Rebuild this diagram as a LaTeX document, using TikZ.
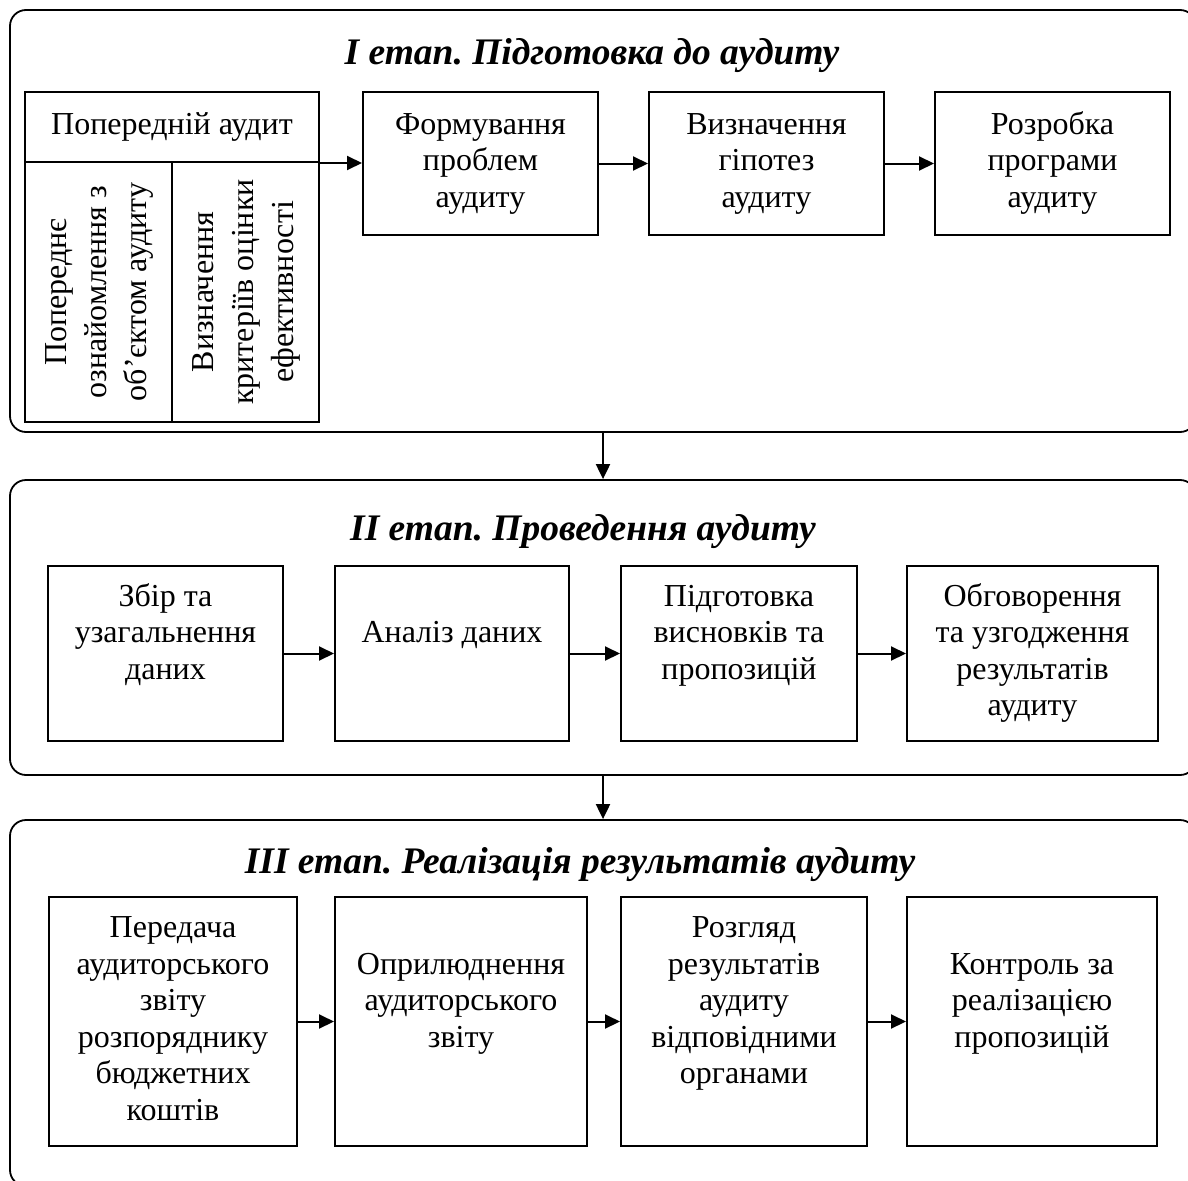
\documentclass[tikz,border=0pt]{standalone}
\usepackage{fontspec}
\setmainfont{Liberation Serif}
\frenchspacing
\usetikzlibrary{arrows.meta, positioning}

\tikzset{
	stage/.style={draw, line width=1.8pt, rounded corners=16pt},
	blk/.style={draw, line width=2pt, align=center, inner sep=0pt, font=\fontsize{32}{36.5}\selectfont},
	vblk/.style={blk, rotate=90, minimum width=260pt, minimum height=147pt, font=\fontsize{32}{40}\selectfont},
	ttl/.style={anchor=base, font=\fontsize{37.5}{42}\selectfont\bfseries\itshape},
	arr/.style={-{Triangle[length=15pt, width=14pt]}, line width=2pt}
}

\begin{document}
\begin{tikzpicture}[x=1pt, y=-1pt, on grid]
	\useasboundingbox (0,0) rectangle (1188,1180);
	\clip (0,0) rectangle (1188,1180);

	% stages
	\node[stage, minimum width=1186pt, minimum height=422pt] (st_1) at (603,221) {};
	\node[stage, minimum width=1186pt, minimum height=295pt] (st_2) at (603,627.5) {};
	\node[stage, minimum width=1186pt, minimum height=366pt] (st_3) at (603,1003) {};

	\node[ttl] (t_1) at (592,65) {I етап. Підготовка до аудиту};
	\node[ttl] (t_2) at (583,540) {II етап. Проведення аудиту};
	\node[ttl] (t_3) at (580,873) {III етап. Реалізація результатів аудиту};

	% stage I
	\node[blk, minimum width=294pt, minimum height=70pt] (p_0) at (172,127) {Попередній аудит};
	\node[vblk] (p_1) at (98.5,292) {\strut Попереднє\\ознайомлення з\\об’єктом аудиту\strut};
	\node[vblk] (p_2) at (245.5,292) {\strut Визначення\\критеріїв оцінки\\ефективності\strut};
	\node[blk, minimum width=235pt, minimum height=143pt] (a_1) at (480.5,163.5) {\strut Формування\\проблем\\аудиту\strut};
	\node[blk, minimum width=235pt, minimum height=143pt, right=286pt of a_1] (a_2) {\strut Визначення\\гіпотез\\аудиту\strut};
	\node[blk, minimum width=235pt, minimum height=143pt, right=286pt of a_2] (a_3) {\strut Розробка\\програми\\аудиту\strut};

	% stage II
	\node[blk, minimum width=235pt, minimum height=175pt] (b_1) at (165.5,653.5) {\strut Збір та\\узагальнення\\даних\\\strut};
	\node[blk, minimum width=234pt, minimum height=175pt, right=286.5pt of b_1] (b_2) {\strut\\Аналіз даних\\\strut\\\strut};
	\node[blk, minimum width=236pt, minimum height=175pt, right=287pt of b_2] (b_3) {\strut Підготовка\\висновків та\\пропозицій\\\strut};
	\node[blk, minimum width=251pt, minimum height=175pt, right=293.5pt of b_3] (b_4) {\strut Обговорення\\та узгодження\\результатів\\аудиту\strut};

	% stage III
	\node[blk, minimum width=248pt, minimum height=249pt] (c_1) at (173,1021.5) {\strut Передача\\аудиторського\\звіту\\розпоряднику\\бюджетних\\коштів\strut};
	\node[blk, minimum width=252pt, minimum height=249pt, right=288pt of c_1] (c_2) {\strut\\Оприлюднення\\аудиторського\\звіту\\\strut\\\strut};
	\node[blk, minimum width=246pt, minimum height=249pt, right=283pt of c_2] (c_3) {\strut Розгляд\\результатів\\аудиту\\відповідними\\органами\\\strut};
	\node[blk, minimum width=250pt, minimum height=249pt, right=288pt of c_3] (c_4) {\strut\\Контроль за\\реалізацією\\пропозицій\\\strut\\\strut};

	\draw[arr] (p_0.south east) -- (p_0.south east -| a_1.west);
	\draw[arr] (a_1) -- (a_2);
	\draw[arr] (a_2) -- (a_3);
	\draw[arr] (st_1) -- (st_2);
	\draw[arr] (b_1) -- (b_2);
	\draw[arr] (b_2) -- (b_3);
	\draw[arr] (b_3) -- (b_4);
	\draw[arr] (st_2) -- (st_3);
	\draw[arr] (c_1) -- (c_2);
	\draw[arr] (c_2) -- (c_3);
	\draw[arr] (c_3) -- (c_4);
\end{tikzpicture}
\end{document}
